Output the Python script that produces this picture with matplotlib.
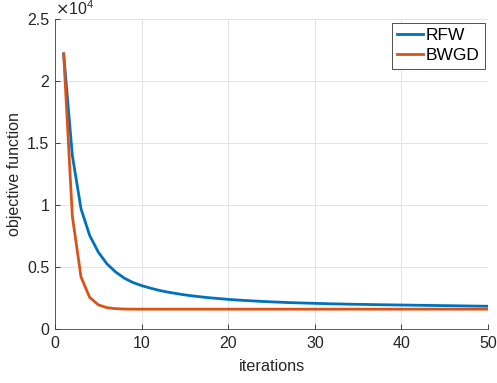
import numpy as np
import matplotlib
matplotlib.use("Agg")
import matplotlib.pyplot as plt

# -------------------- Data --------------------
iterations = np.arange(1, 51)

rfw = [22200, 14000, 9700, 7550, 6200, 5250, 4600, 4100, 3750, 3500,
       3300, 3120, 2980, 2860, 2750, 2660, 2580, 2510, 2450, 2390,
       2340, 2300, 2260, 2220, 2190, 2160, 2130, 2110, 2090, 2070,
       2050, 2030, 2020, 2000, 1990, 1980, 1965, 1955, 1945, 1935,
       1925, 1915, 1905, 1895, 1885, 1875, 1865, 1855, 1845, 1835]

bwgd = [22200, 9100, 4200, 2550, 1950, 1720, 1640, 1610, 1600, 1600,
        1600, 1600, 1600, 1600, 1600, 1600, 1600, 1600, 1600, 1600,
        1600, 1600, 1600, 1600, 1600, 1600, 1600, 1600, 1600, 1600,
        1600, 1600, 1600, 1600, 1600, 1600, 1600, 1600, 1600, 1600,
        1600, 1600, 1600, 1600, 1600, 1600, 1600, 1600, 1600, 1600]

yticks = [0, 5000, 10000, 15000, 20000, 25000]
ytick_labels = ["0", "0.5", "1", "1.5", "2", "2.5"]
xticks = [0, 10, 20, 30, 40, 50]

# -------------------- Plot --------------------
plt.rcParams['font.family'] = ['Liberation Sans', 'DejaVu Sans']

fig = plt.figure(figsize=(4.97, 3.83), dpi=100)
ax = fig.add_axes([0.1107, 0.141, 0.8713, 0.809])

ax.plot(iterations, rfw, color='#0072BD', linewidth=2.0, label='RFW')
ax.plot(iterations, bwgd, color='#D95319', linewidth=2.0, label='BWGD')

ax.set_xlim(0, 50)
ax.set_ylim(0, 25000)
ax.set_xticks(xticks)
ax.set_yticks(yticks)
ax.set_yticklabels(ytick_labels)
ax.tick_params(direction='in', length=3.5, labelsize=11.5, colors='#262626',
               width=0.6)
ax.tick_params(axis='x', pad=5)
ax.tick_params(axis='y', pad=4)

ax.grid(True, color='#e3e3e3', linewidth=0.7)
ax.set_axisbelow(True)
for side in ['top', 'right']:
    ax.spines[side].set_visible(False)
for side in ['left', 'bottom']:
    ax.spines[side].set_color('#404040')
    ax.spines[side].set_linewidth(0.6)

ax.set_xlabel('iterations', fontsize=11.7, color='#262626', labelpad=6)
ax.set_ylabel('objective function', fontsize=11.5, color='#262626', labelpad=4)
ax.text(0.0, 1.005, r'$\times\mathregular{10^{4}}$', transform=ax.transAxes,
        fontsize=11.5, color='#262626', ha='left', va='bottom')

leg = ax.legend(loc='upper right', fontsize=12.5, handlelength=1.5,
                handletextpad=0.15, borderpad=0.3, labelspacing=0.3,
                fancybox=False, framealpha=1, borderaxespad=0.2,
                handleheight=0.7)
leg.get_frame().set_edgecolor('#333333')
leg.get_frame().set_linewidth(0.6)

fig.savefig('out.png', dpi=100)
